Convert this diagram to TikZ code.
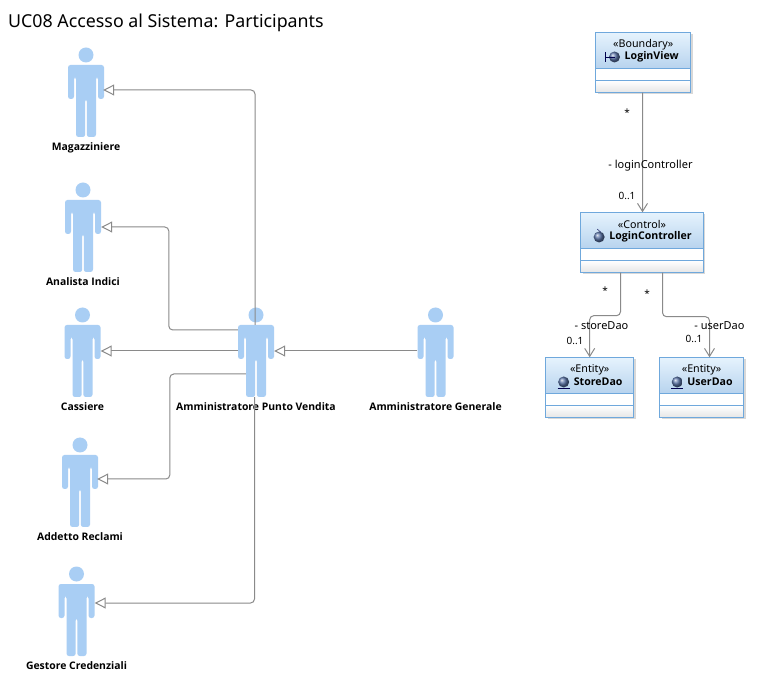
\documentclass[tikz,border=0pt]{standalone}
\usepackage{fontspec}
\setmainfont{Noto Sans}
\newfontfamily\boldlabel{Open Sans}
\usepackage{xcolor}
\usetikzlibrary{positioning,arrows.meta,shadows}
\definecolor{actorblue}{HTML}{A9CEF4}
\definecolor{classline}{HTML}{6FA8DC}
\definecolor{headtop}{HTML}{E6F3FD}
\definecolor{headbot}{HTML}{B7D3EE}
\definecolor{ballblue}{HTML}{5A74A8}
\definecolor{linegray}{HTML}{8A8A8A}

\newcommand{\actor}[4]{%
    \node[actor] (#1) at (#2,#3) {};
    \fill[actorblue] (#2,#3-46) circle (7.5);
    \begin{scope}[shift={(#2,#3)}]
        \fill[actorblue, rounded corners=2.5pt] (-18,-2) -- (-18,-36) -- (18,-36) -- (18,-2) -- (12,-2) -- (12,-24) -- (10,-24) -- (10,36) -- (0.8,36) -- (0.8,-2) -- (-0.8,-2) -- (-0.8,36) -- (-10,36) -- (-10,-24) -- (-12,-24) -- (-12,-2) -- cycle;
    \end{scope}
    \node[actorname, below=5pt of #1] (#1name) {#4};
}
\newcommand{\umlclass}[6]{%
    \node[classbox, minimum width=#4pt] (#1) at (#2,#3) {};
    \shade[top color=headtop, bottom color=headbot] (#1.north west) rectangle ([yshift=-6pt]#1.east);
    \shade[top color=white, bottom color=black!10] ([yshift=-18pt]#1.west) rectangle (#1.south east);
    \draw[classline, line width=1pt] (#1.north west) rectangle (#1.south east);
    \draw[classline, line width=1pt] ([yshift=-6pt]#1.west) -- ([yshift=-6pt]#1.east);
    \draw[classline, line width=1pt] ([yshift=-18pt]#1.west) -- ([yshift=-18pt]#1.east);
    \node[stereotype] (#1stereo) at ([yshift=18pt]#1.center) {«#5»};
    \node[classname] (#1name) at ([xshift=8.5pt,yshift=5.5pt]#1.center) {#6};
    \coordinate (#1icon) at ([xshift=-10pt]#1name.west);
    \shade[ball color=ballblue] (#1icon) circle (5.5);
}

\begin{document}
\begin{tikzpicture}[
    x=1pt, y=-1pt,
    actor/.style={rectangle, inner sep=0pt, minimum width=36pt, minimum height=72pt},
    actorname/.style={inner sep=0pt, text height=8pt, text depth=2pt, font=\fontsize{10.4}{11}\boldlabel\bfseries},
    classbox/.style={rectangle, fill=white, inner sep=0pt, minimum height=60pt, drop shadow={shadow xshift=2pt, shadow yshift=-2pt, fill=black!30, opacity=0.5}},
    stereotype/.style={inner sep=0pt, font=\fontsize{10.7}{12}\selectfont},
    classname/.style={inner sep=0pt, font=\fontsize{10.6}{12}\boldlabel\bfseries},
    assoclabel/.style={inner sep=0pt, font=\fontsize{10}{12}\selectfont},
    rolelabel/.style={inner sep=0pt, font=\fontsize{11}{12}\selectfont},
    general/.style={draw=linegray, line width=1pt, rounded corners=4pt, -{Triangle[open, fill=white, length=11pt, width=11pt]}},
    assoc/.style={draw=linegray, line width=1pt, rounded corners=4pt, -{Straight Barb[length=8pt, width=10pt]}}
]
    \useasboundingbox (0,0) rectangle (769,684);
    \fill[white] (0,0) rectangle (769,684);

    \node[anchor=west, inner sep=0pt, font=\fontsize{17.8}{20}\selectfont] (title) at (8,23) {UC08 Accesso al Sistema: Participants};

    % actors
    \actor{magazziniere}{86}{101}{Magazziniere}
    \actor{analista}{83}{236}{Analista Indici}
    \actor{cassiere}{82.5}{361}{Cassiere}
    \actor{addetto}{80}{491}{Addetto Reclami}
    \actor{gestore}{76.5}{620}{Gestore Credenziali}
    \actor{puntovendita}{256}{361}{Amministratore Punto Vendita}
    \actor{generale}{435.5}{361}{Amministratore Generale}

    \draw[general] ([xshift=-1pt]puntovendita.north) |- ([yshift=11pt,xshift=-1pt]magazziniere.east);
    \draw[general] ([yshift=31pt]puntovendita.west) -- ++(-69,0) |- ([yshift=9pt]analista.east);
    \draw[general] ([yshift=10pt]puntovendita.west) -- ([yshift=10pt]cassiere.east);
    \draw[general] ([xshift=8pt,yshift=-13pt]puntovendita.west) -- ++(-76,0) |- ([yshift=12pt,xshift=-1pt]addetto.east);
    \draw[general] ([xshift=-1.5pt]puntovendita.south) |- ([yshift=17pt]gestore.east);
    \draw[general] ([yshift=10pt]generale.west) -- ([yshift=10pt]puntovendita.east);

    % classes
    \umlclass{loginview}{643.2}{62.5}{95}{Boundary}{LoginView}
    \umlclass{logincontroller}{642}{242.5}{122}{Control}{LoginController}
    \umlclass{storedao}{589.7}{387.5}{88}{Entity}{StoreDao}
    \umlclass{userdao}{701.5}{387.5}{84}{Entity}{UserDao}

    \draw[black!70!blue] (loginviewicon) -- ++(-9.5,0);
    \draw[black!70!blue] ([xshift=-9.5pt,yshift=5pt]loginviewicon) -- ([xshift=-9.5pt,yshift=-5pt]loginviewicon);
    \draw[black!70!blue] ([xshift=-2pt,yshift=8pt]logincontrollericon) -- ([xshift=1.5pt,yshift=5pt]logincontrollericon);
    \draw[black!70!blue] ([xshift=-6pt,yshift=-6pt]storedaoicon) -- ([xshift=6pt,yshift=-6pt]storedaoicon);
    \draw[black!70!blue] ([xshift=-6pt,yshift=-6pt]userdaoicon) -- ([xshift=6pt,yshift=-6pt]userdaoicon);

    \draw[assoc] ([xshift=-0.5pt]loginview.south) -- ([xshift=0.5pt]logincontroller.north);
    \draw[assoc] ([xshift=-21.5pt]logincontroller.south) -- ++(0,43) -| (storedao.north);
    \draw[assoc] ([xshift=20.5pt]logincontroller.south) -- ++(0,44) -| ([xshift=8pt]userdao.north);

    \node[assoclabel] (viewstar) at (627,113) {*};
    \node[rolelabel] (viewrole) at (650.5,166) {- loginController};
    \node[assoclabel] (viewmult) at (627,196) {0..1};
    \node[assoclabel] (storestar) at (605,291) {*};
    \node[rolelabel] (storerole) at (601.5,326) {- storeDao};
    \node[assoclabel] (storemult) at (575,341) {0..1};
    \node[assoclabel] (userstar) at (647,294) {*};
    \node[rolelabel] (userrole) at (719.5,326) {- userDao};
    \node[assoclabel] (usermult) at (694,339) {0..1};
\end{tikzpicture}
\end{document}
